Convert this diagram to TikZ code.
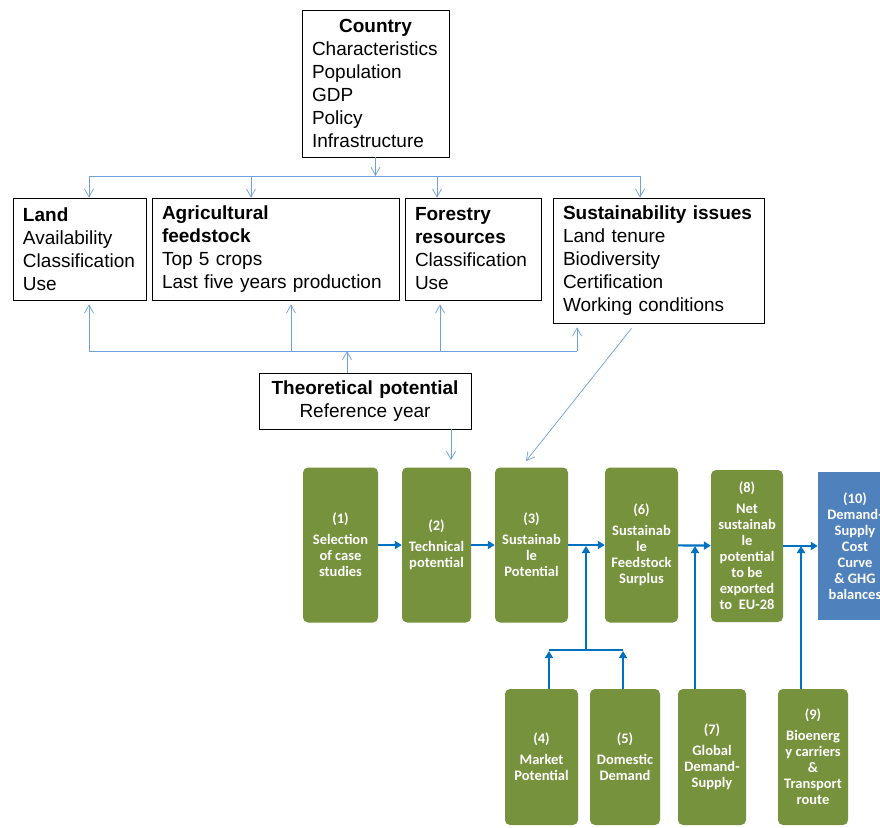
\documentclass[tikz,border=0pt]{standalone}
\usepackage{fontspec}
\setmainfont{Liberation Sans}
\newfontfamily\stepfont{Carlito}
\usetikzlibrary{arrows.meta}
\definecolor{stepgreen}{RGB}{118,146,60}
\definecolor{stepblue}{RGB}{79,129,189}
\definecolor{flowblue}{RGB}{0,112,192}
\definecolor{linkblue}{RGB}{110,160,220}
\tikzset{
  infobox/.style={draw,line width=0.8pt,inner xsep=10pt,inner ysep=0pt,align=left,font=\fontsize{19}{23}\selectfont},
  stepbox/.style={fill=stepgreen,rounded corners=5pt,text=white,inner sep=0pt,align=center,font=\stepfont\bfseries\fontsize{14.5}{16}\selectfont},
  link/.style={linkblue,line width=0.7pt,-{Straight Barb[length=8pt,width=9pt]}},
  bus/.style={linkblue,line width=0.7pt},
  flow/.style={flowblue,line width=2.2pt,-{Triangle[length=7pt,width=8pt]}},
  flowbus/.style={flowblue,line width=2.2pt},
}
\begin{document}
\begin{tikzpicture}[x=1pt,y=-1pt]
\useasboundingbox (0,0) rectangle (880,827);

\node[infobox,text width=127pt,minimum height=147pt] (country) at (375.5,83.5)
  {\makebox[\linewidth]{\bfseries Country}\\Characteristics\\Population\\GDP\\Policy\\Infrastructure};
\node[infobox,text width=113pt,minimum height=102pt] (landbox) at (79.5,249)
  {\textbf{Land}\\Availability\\Classification\\Use};
\node[infobox,text width=227pt,minimum height=102pt] (agribox) at (275.5,249)
  {\textbf{Agricultural}\\\textbf{feedstock}\\Top 5 crops\\Last five years production};
\node[infobox,text width=116pt,minimum height=102pt] (forestbox) at (473,249)
  {\textbf{Forestry}\\\textbf{resources}\\Classification\\Use};
\node[infobox,text width=191pt,minimum height=125pt] (sustbox) at (658.5,260.5)
  {\textbf{Sustainability issues}\\Land tenure\\Biodiversity\\Certification\\Working conditions};
\node[infobox,align=center,text width=192pt,minimum height=56pt] (theo) at (365,401)
  {\textbf{Theoretical potential}\\Reference year};

\node[stepbox,minimum width=75pt,minimum height=155pt] (s1) at (340.5,545) {(1)\\[5pt]Selection\\of case\\studies};
\node[stepbox,minimum width=69pt,minimum height=155pt] (s2) at (436.5,545) {(2)\\[5pt]Technical\\potential};
\node[stepbox,minimum width=73pt,minimum height=155pt] (s3) at (531.5,545) {(3)\\[5pt]Sustainab\\le\\Potential};
\node[stepbox,minimum width=73pt,minimum height=155pt] (s6) at (641.5,545) {(6)\\[5pt]Sustainab\\le\\Feedstock\\Surplus};
\node[stepbox,minimum width=72pt,minimum height=152pt] (s8) at (747,546) {(8)\\[5pt]Net\\sustainab\\le\\potential\\to be\\exported\\to\ \ EU-28};
\node[stepbox,fill=stepblue,rounded corners=0pt,minimum width=74pt,minimum height=148pt] (s10) at (855,546) {(10)\\Demand-\\Supply\\Cost\\Curve\\\& GHG\\balances};
\node[stepbox,minimum width=73pt,minimum height=136pt] (s4) at (541.5,757) {(4)\\[5pt]Market\\Potential};
\node[stepbox,minimum width=70pt,minimum height=136pt] (s5) at (625,757) {(5)\\[5pt]Domestic\\Demand};
\node[stepbox,minimum width=68pt,minimum height=136pt] (s7) at (712,757) {(7)\\[5pt]Global\\Demand-\\Supply};
\node[stepbox,minimum width=70pt,minimum height=136pt] (s9) at (813,757) {(9)\\[5pt]Bioenerg\\y carriers\\\&\\Transport\\route};

\coordinate (tbus) at (376,176);
\coordinate (t1) at (89,176);
\coordinate (t2) at (251,176);
\coordinate (t3) at (437,176);
\coordinate (t4) at (640,176);
\draw[link] (country.south) -- (country.south |- tbus);
\draw[bus] (t1) -- (t4);
\draw[link] (t1) -- (t1 |- landbox.north);
\draw[link] (t2) -- (t2 |- agribox.north);
\draw[link] (t3) -- (t3 |- forestbox.north);
\draw[link] (t4) -- (t4 |- sustbox.north);

\coordinate (u0) at (347,351);
\coordinate (u1) at (89,351);
\coordinate (u2) at (291,351);
\coordinate (u3) at (440,351);
\coordinate (u4) at (577,351);
\draw[bus] (u1) -- (u4);
\draw[link,shorten >=4pt] (u1) -- (u1 |- landbox.south);
\draw[link,shorten >=4pt] (u2) -- (u2 |- agribox.south);
\draw[link,shorten >=4pt] (u3) -- (u3 |- forestbox.south);
\draw[link,shorten >=4pt] (u4) -- (u4 |- sustbox.south);
\draw[link] (u0 |- theo.north) -- (u0);

\coordinate (d2) at (451,460);
\coordinate (d3) at (526,461);
\draw[link] (d2 |- theo.south) -- (d2);
\draw[link] (sustbox.south) ++(-27,5) -- (d3);

\coordinate (j3) at (586,546);
\coordinate (j7) at (695,546);
\coordinate (j9) at (801,546);
\coordinate (b45) at (586,650);
\coordinate (a4) at (549,650);
\coordinate (a5) at (623,650);
\draw[flow] (s1) -- (s2);
\draw[flow] (s2) -- (s3);
\draw[flow] (s3) -- (s6);
\draw[flow] (s6) -- (s8);
\draw[flow] (s8) -- (s10);
\draw[flowbus] (a4) -- (a5);
\draw[flow,shorten >=1pt] (a4 |- s4.north) -- (a4);
\draw[flow,shorten >=1pt] (a5 |- s5.north) -- (a5);
\draw[flow] (b45) -- (j3);
\draw[flow] (j7 |- s7.north) -- (j7);
\draw[flow] (j9 |- s9.north) -- (j9);
\end{tikzpicture}
\end{document}
